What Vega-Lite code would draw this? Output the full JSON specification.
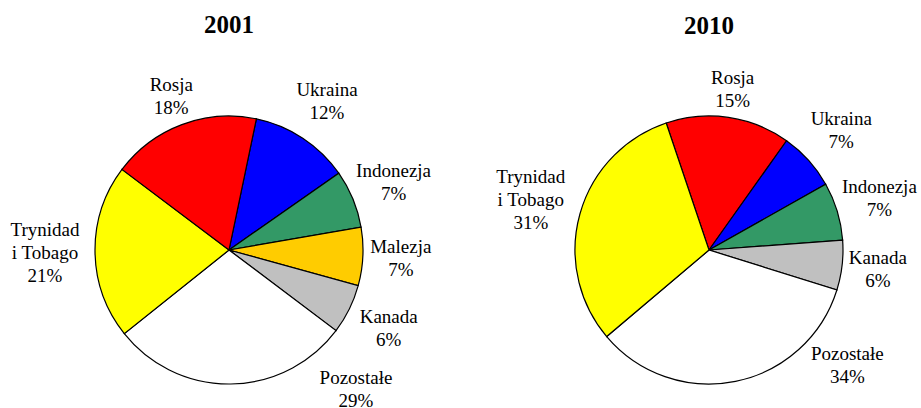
{
  "$schema": "https://vega.github.io/schema/vega-lite/v6.json",
  "padding": {"top": 13, "left": 0, "right": 0, "bottom": 0},
  "spacing": 39,
  "bounds": "flush",
  "config": {
    "view": {"stroke": null},
    "font": "Liberation Serif",
    "title": {"font": "Liberation Serif", "fontSize": 25, "fontWeight": "bold", "color": "black", "anchor": "middle", "offset": -4, "frame": "group"}
  },
  "datasets": {
    "shares": [
      {"year": 2001, "kraj": "Ukraina", "udzial": 12, "i": 1},
      {"year": 2001, "kraj": "Indonezja", "udzial": 7, "i": 2},
      {"year": 2001, "kraj": "Malezja", "udzial": 7, "i": 3},
      {"year": 2001, "kraj": "Kanada", "udzial": 6, "i": 4},
      {"year": 2001, "kraj": "Pozostałe", "udzial": 29, "i": 5},
      {"year": 2001, "kraj": "Trynidad i Tobago", "udzial": 21, "i": 6},
      {"year": 2001, "kraj": "Rosja", "udzial": 18, "i": 7},
      {"year": 2010, "kraj": "Rosja", "udzial": 15, "i": 1},
      {"year": 2010, "kraj": "Ukraina", "udzial": 7, "i": 2},
      {"year": 2010, "kraj": "Indonezja", "udzial": 7, "i": 3},
      {"year": 2010, "kraj": "Kanada", "udzial": 6, "i": 4},
      {"year": 2010, "kraj": "Pozostałe", "udzial": 34, "i": 5},
      {"year": 2010, "kraj": "Trynidad i Tobago", "udzial": 31, "i": 6}
    ]
  },
  "hconcat": [
    {
      "title": {"text": "2001", "dy": -8},
      "width": 458,
      "height": 318,
      "data": {"name": "shares"},
      "transform": [
        {"filter": "datum.year == 2001"},
        {"calculate": "replace(datum.kraj, ' i T', '\\ni T') + '\\n' + datum.udzial + '%'", "as": "lbl"}
      ],
      "encoding": {
        "theta": {"field": "udzial", "type": "quantitative", "stack": true, "scale": {"domain": [0, 100], "range": [0.206, 6.489]}},
        "order": {"field": "i", "type": "quantitative"}
      },
      "layer": [
        {
          "mark": {"type": "arc", "outerRadius": 134, "stroke": "black", "strokeWidth": 1.2},
          "encoding": {
            "color": {"field": "kraj", "type": "nominal", "legend": null,
              "scale": {"domain": ["Rosja", "Ukraina", "Indonezja", "Malezja", "Kanada", "Pozostałe", "Trynidad i Tobago"],
                        "range": ["#FF0000", "#0000FF", "#339966", "#FFCC00", "#C0C0C0", "#FFFFFF", "#FFFF00"]}}
          }
        },
        {
          "mark": {"type": "text", "radius": 178, "dy": -11.5, "fontSize": 19, "lineHeight": 23, "lineBreak": "\n", "align": "center", "baseline": "middle", "color": "black", "font": "Liberation Serif"},
          "encoding": {"text": {"condition": {"test": "datum.kraj == 'Ukraina' || datum.kraj == 'Indonezja' || datum.kraj == 'Kanada'", "field": "lbl"}, "value": ""}}
        },
        {
          "mark": {"type": "text", "radius": 164, "dy": -11.5, "fontSize": 19, "lineHeight": 23, "lineBreak": "\n", "align": "center", "baseline": "middle", "color": "black", "font": "Liberation Serif"},
          "encoding": {"text": {"condition": {"test": "datum.kraj == 'Rosja'", "field": "lbl"}, "value": ""}}
        },
        {
          "mark": {"type": "text", "radius": 172, "dy": -11.5, "fontSize": 19, "lineHeight": 23, "lineBreak": "\n", "align": "center", "baseline": "middle", "color": "black", "font": "Liberation Serif"},
          "encoding": {"text": {"condition": {"test": "datum.kraj == 'Malezja'", "field": "lbl"}, "value": ""}}
        },
        {
          "mark": {"type": "text", "radius": 184, "dy": -23, "fontSize": 19, "lineHeight": 23, "lineBreak": "\n", "align": "center", "baseline": "middle", "color": "black", "font": "Liberation Serif"},
          "encoding": {"text": {"condition": {"test": "datum.kraj == 'Trynidad i Tobago'", "field": "lbl"}, "value": ""}}
        },
        {
          "mark": {"type": "text", "radius": 189, "thetaOffset": -0.723, "dy": -11.5, "fontSize": 19, "lineHeight": 23, "lineBreak": "\n", "align": "center", "baseline": "middle", "color": "black", "font": "Liberation Serif"},
          "encoding": {"text": {"condition": {"test": "datum.kraj == 'Pozostałe'", "field": "lbl"}, "value": ""}}
        }
      ]
    },
    {
      "title": "2010",
      "width": 424,
      "height": 318,
      "data": {"name": "shares"},
      "transform": [
        {"filter": "datum.year == 2010"},
        {"calculate": "replace(datum.kraj, ' i T', '\\ni T') + '\\n' + datum.udzial + '%'", "as": "lbl"}
      ],
      "encoding": {
        "theta": {"field": "udzial", "type": "quantitative", "stack": true, "scale": {"domain": [0, 100], "range": [-0.325, 5.958]}},
        "order": {"field": "i", "type": "quantitative"}
      },
      "layer": [
        {
          "mark": {"type": "arc", "outerRadius": 134, "stroke": "black", "strokeWidth": 1.2},
          "encoding": {
            "color": {"field": "kraj", "type": "nominal", "legend": null,
              "scale": {"domain": ["Rosja", "Ukraina", "Indonezja", "Malezja", "Kanada", "Pozostałe", "Trynidad i Tobago"],
                        "range": ["#FF0000", "#0000FF", "#339966", "#FFCC00", "#C0C0C0", "#FFFFFF", "#FFFF00"]}}
          }
        },
        {
          "mark": {"type": "text", "radius": 178, "dy": -11.5, "fontSize": 19, "lineHeight": 23, "lineBreak": "\n", "align": "center", "baseline": "middle", "color": "black", "font": "Liberation Serif"},
          "encoding": {"text": {"condition": {"test": "datum.kraj == 'Ukraina' || datum.kraj == 'Indonezja'", "field": "lbl"}, "value": ""}}
        },
        {
          "mark": {"type": "text", "radius": 162, "dy": -11.5, "fontSize": 19, "lineHeight": 23, "lineBreak": "\n", "align": "center", "baseline": "middle", "color": "black", "font": "Liberation Serif"},
          "encoding": {"text": {"condition": {"test": "datum.kraj == 'Rosja'", "field": "lbl"}, "value": ""}}
        },
        {
          "mark": {"type": "text", "radius": 170, "dy": -11.5, "fontSize": 19, "lineHeight": 23, "lineBreak": "\n", "align": "center", "baseline": "middle", "color": "black", "font": "Liberation Serif"},
          "encoding": {"text": {"condition": {"test": "datum.kraj == 'Kanada'", "field": "lbl"}, "value": ""}}
        },
        {
          "mark": {"type": "text", "radius": 185, "dy": -23, "fontSize": 19, "lineHeight": 23, "lineBreak": "\n", "align": "center", "baseline": "middle", "color": "black", "font": "Liberation Serif"},
          "encoding": {"text": {"condition": {"test": "datum.kraj == 'Trynidad i Tobago'", "field": "lbl"}, "value": ""}}
        },
        {
          "mark": {"type": "text", "radius": 180, "thetaOffset": -0.677, "dy": -11.5, "fontSize": 19, "lineHeight": 23, "lineBreak": "\n", "align": "center", "baseline": "middle", "color": "black", "font": "Liberation Serif"},
          "encoding": {"text": {"condition": {"test": "datum.kraj == 'Pozostałe'", "field": "lbl"}, "value": ""}}
        }
      ]
    }
  ]
}
